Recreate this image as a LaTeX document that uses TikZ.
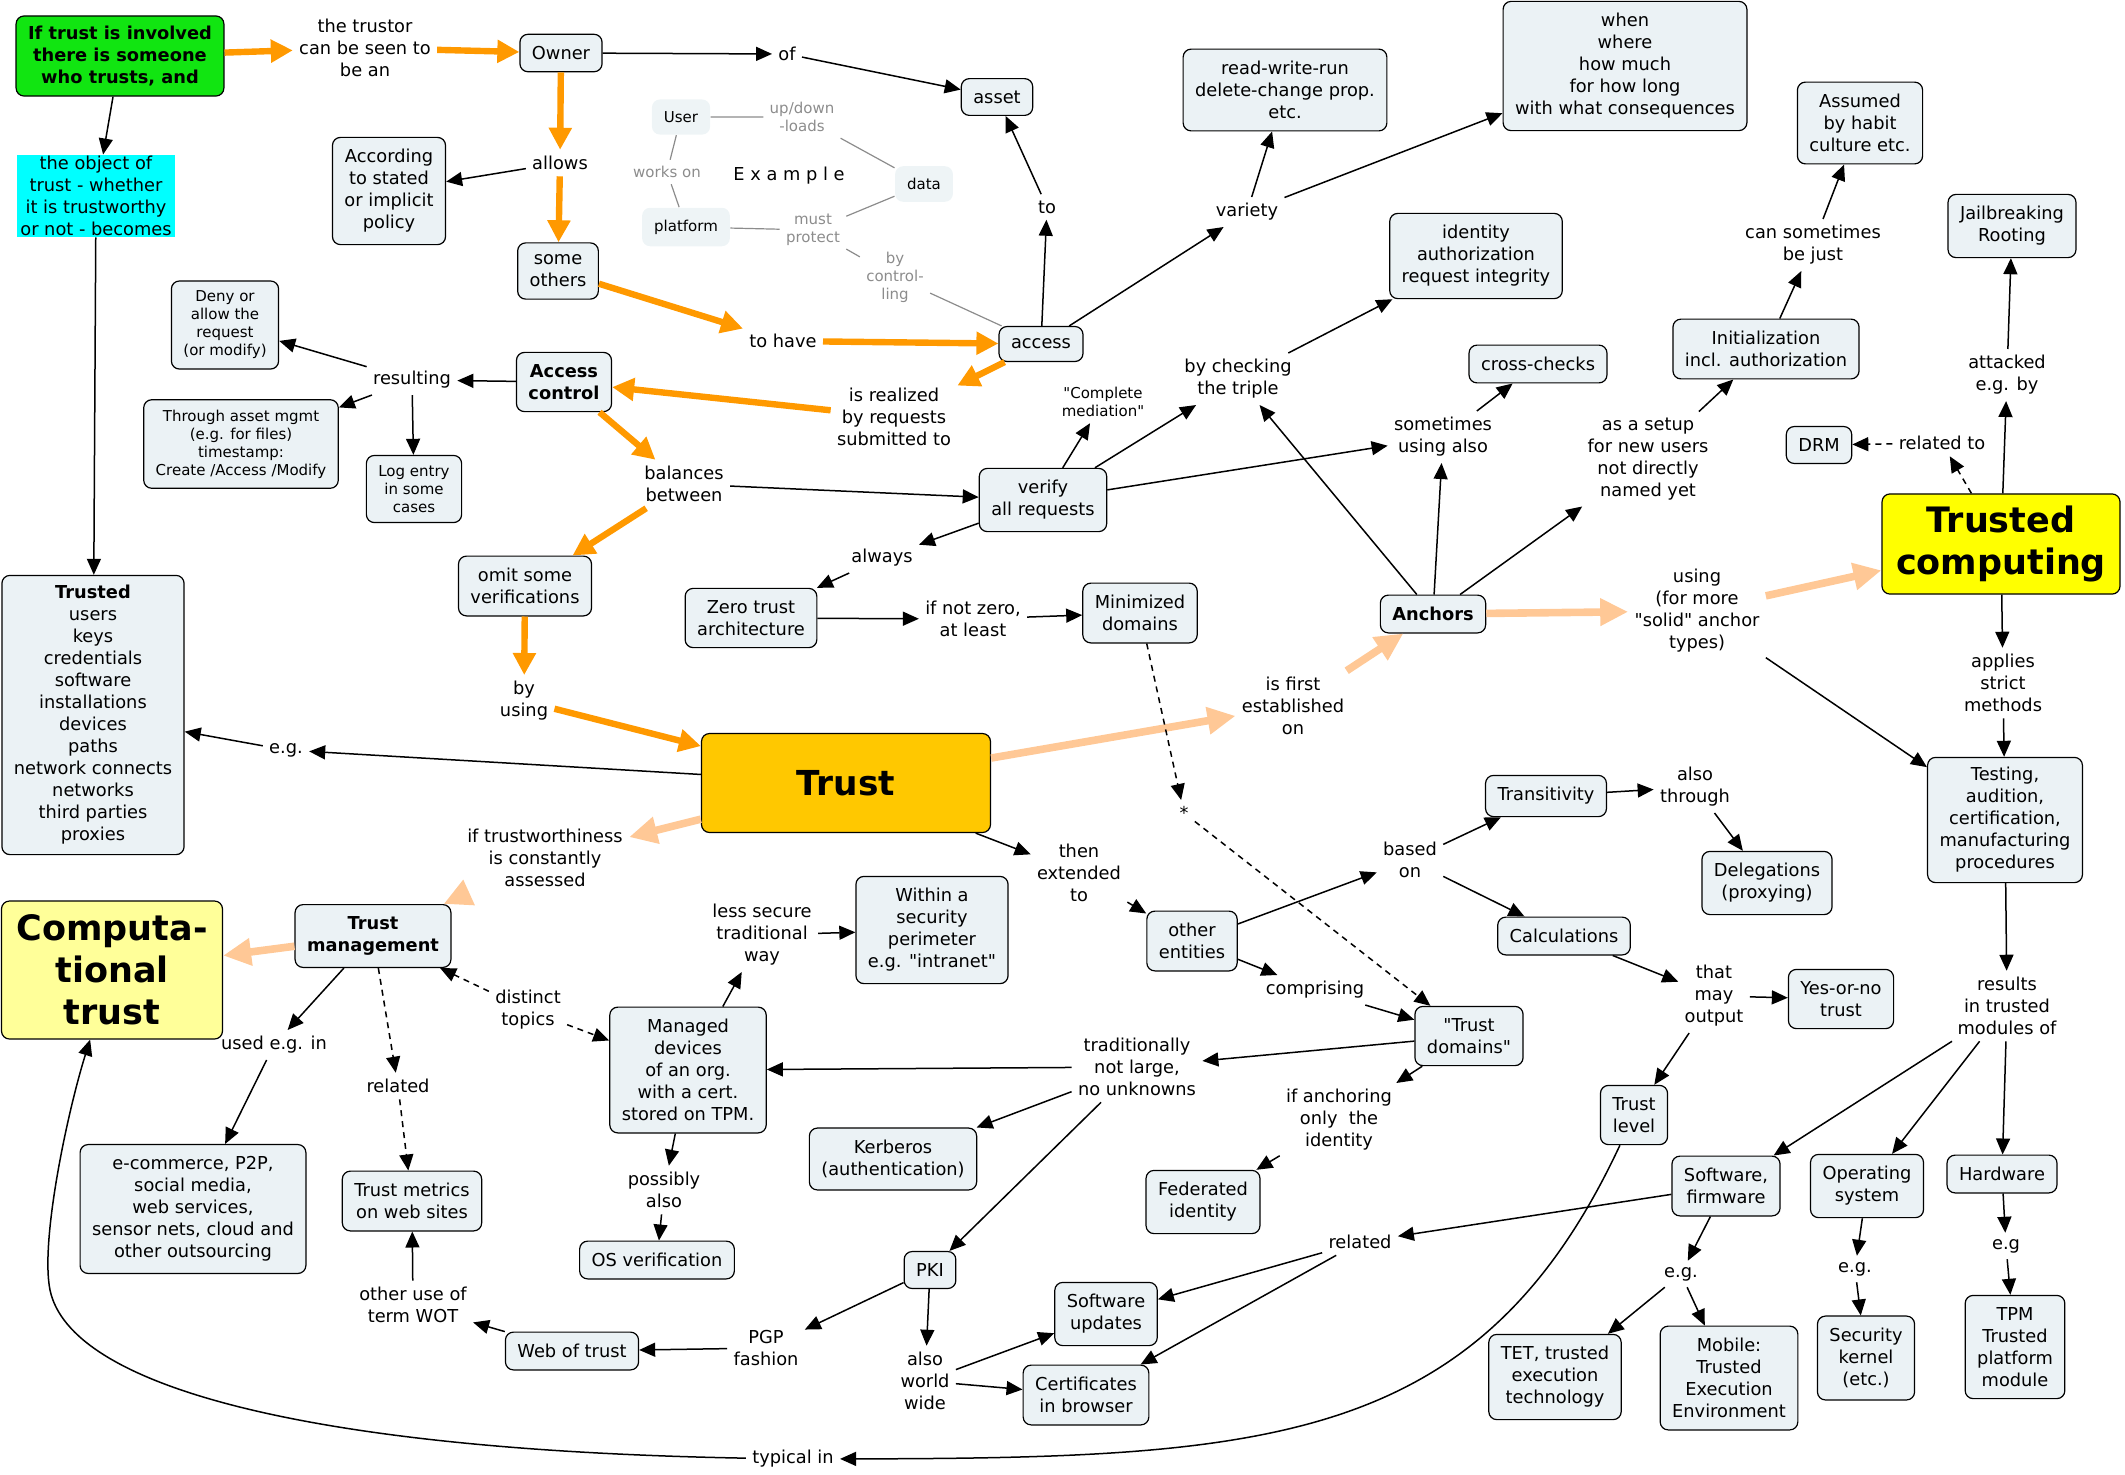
\documentclass[tikz,border=0pt]{standalone}
\usepackage{fontspec}
\setmainfont{DejaVu Sans}
\newfontfamily\mapfam{DejaVu Sans}
\usetikzlibrary{arrows.meta}

\definecolor{boxfill}{HTML}{EBF2F5}
\definecolor{exfill}{HTML}{EEF4F6}
\definecolor{exgray}{HTML}{8C8C8C}
\definecolor{trustgold}{HTML}{FFC800}
\definecolor{tcyellow}{HTML}{FFFF00}
\definecolor{ctyellow}{HTML}{FFFF99}
\definecolor{greenbox}{HTML}{11E511}
\definecolor{cyanbox}{HTML}{00FFFF}
\definecolor{arrorange}{HTML}{FF9900}
\definecolor{arrpeach}{HTML}{FFC896}

\begin{document}
\begin{tikzpicture}[x=0.5pt,y=-0.5pt,
  box/.style={draw,line width=0.6pt,rounded corners=4pt,fill=boxfill,align=center,inner xsep=6pt,inner ysep=6pt,minimum height=17.5pt,font=\mapfam\fontsize{8.9}{11}\selectfont},
  boldbox/.style={box,font=\mapfam\fontsize{8.9}{11}\selectfont\bfseries},
  smallbox/.style={box,inner ysep=5pt,font=\mapfam\fontsize{7.5}{9}\selectfont},
  exbox/.style={box,draw=none,fill=exfill,font=\mapfam\fontsize{7.5}{9}\selectfont},
  phrase/.style={align=center,inner sep=3pt,font=\mapfam\fontsize{8.9}{11}\selectfont},
  exphrase/.style={phrase,text=exgray,font=\mapfam\fontsize{7.5}{9}\selectfont},
  link/.style={line width=0.75pt,-{Triangle[length=8pt,width=7pt]}},
  dlink/.style={link,dash pattern=on 3pt off 2.5pt},
  olink/.style={arrorange,line width=3.2pt,-{Triangle[length=11pt,width=11pt]}},
  plink/.style={arrpeach,line width=3.8pt,-{Triangle[length=14pt,width=13pt]}},
  exlink/.style={exgray,line width=0.6pt}]
\useasboundingbox (0,0) rectangle (2125,1474);

% concepts
\node at (120,56) [boldbox,fill=greenbox,inner ysep=5pt] (green) {If trust is involved\\there is someone\\who trusts, and};
\node at (96,196) [box,draw=none,rounded corners=0pt,fill=cyanbox,inner xsep=1.5pt,inner ysep=0.5pt] (object) {the object of\\trust - whether\\it is trustworthy\\or not - becomes};
\node at (561,53) [box] (owner) {Owner};
\node at (997,97) [box] (asset) {asset};
\node at (1285,90) [box] (rwr) {read-write-run\\delete-change prop.\\etc.};
\node at (1625,66) [box] (when) {when\\where\\how much\\for how long\\with what consequences};
\node at (1860,123) [box] (assumed) {Assumed\\by habit\\culture etc.};
\node at (2012,226) [box] (jail) {Jailbreaking\\Rooting};
\node at (389,191) [box] (according) {According\\to stated\\or implicit\\policy};
\node at (558,271) [box] (others) {some\\others};
\node at (1041,344) [box] (access) {access};
\node at (225,325) [smallbox] (deny) {Deny or\\allow the\\request\\(or modify)};
\node at (564,382) [boldbox] (acctl) {Access\\control};
\node at (241,444) [smallbox] (through) {Through asset mgmt\\(e.g. for files)\\timestamp:\\Create /Access /Modify};
\node at (414,489) [smallbox] (logentry) {Log entry\\in some\\cases};
\node at (1476,256) [box] (identity) {identity\\authorization\\request integrity};
\node at (1538,364) [box] (cross) {cross-checks};
\node at (1766,349) [box] (init) {Initialization\\incl. authorization};
\node at (1819,445) [box] (drm) {DRM};
\node at (2001,544) [box,fill=tcyellow,font=\mapfam\fontsize{17.5}{21}\selectfont\bfseries,minimum width=119pt,minimum height=49.5pt] (tc) {Trusted\\computing};
\node at (525,586) [box] (omit) {omit some\\verifications};
\node at (93,715) [box,inner ysep=5pt] (trusted) {\textbf{Trusted}\\users\\keys\\credentials\\software\\installations\\devices\\paths\\network connects\\networks\\third parties\\proxies};
\node at (1043,500) [box] (verify) {verify\\all requests};
\node at (751,618) [box] (zero) {Zero trust\\architecture};
\node at (1140,613) [box] (minimized) {Minimized\\domains};
\node at (1433,614) [boldbox] (anchors) {Anchors};
\node at (846,783) [box,fill=trustgold,font=\mapfam\fontsize{17.2}{21}\selectfont\bfseries,minimum width=144.5pt,minimum height=49.5pt] (trust) {Trust};
\node at (2005,820) [box,inner ysep=5pt] (testing) {Testing,\\audition,\\certification,\\manufacturing\\procedures};
\node at (1546,796) [box] (transitivity) {Transitivity};
\node at (1767,883) [box] (delegations) {Delegations\\(proxying)};
\node at (1564,936) [box] (calc) {Calculations};
\node at (1192,941) [box] (otherent) {other\\entities};
\node at (932,930) [box] (within) {Within a\\security\\perimeter\\e.g. "intranet"};
\node at (112,970) [box,fill=ctyellow,font=\mapfam\fontsize{17.5}{21}\selectfont\bfseries,minimum width=110.5pt,minimum height=69pt] (comptrust) {Computa-\\tional\\trust};
\node at (373,936) [boldbox] (trustmgmt) {Trust\\management};
\node at (1841,999) [box] (yesno) {Yes-or-no\\trust};
\node at (1469,1036) [box] (tdomains) {"Trust\\domains"};
\node at (688,1070) [box] (managed) {Managed\\devices\\of an org.\\with a cert.\\stored on TPM.};
\node at (1634,1115) [box] (tlevel) {Trust\\level};
\node at (893,1159) [box] (kerberos) {Kerberos\\(authentication)};
\node at (1203,1202) [box] (federated) {Federated\\identity};
\node at (193,1209) [box] (ecommerce) {e-commerce, P2P,\\social media,\\web services,\\sensor nets, cloud and\\other outsourcing};
\node at (412,1201) [box] (metrics) {Trust metrics\\on web sites};
\node at (1726,1186) [box] (swfw) {Software,\\firmware};
\node at (1867,1186) [box] (os) {Operating\\system};
\node at (2002,1174) [box] (hardware) {Hardware};
\node at (657,1260) [box] (osverif) {OS verification};
\node at (930,1270) [box] (pki) {PKI};
\node at (1106,1314) [box] (swupdates) {Software\\updates};
\node at (572,1351) [box] (wot) {Web of trust};
\node at (1086,1395) [box] (certs) {Certificates\\in browser};
\node at (1555,1377) [box] (tet) {TET, trusted\\execution\\technology};
\node at (1729,1378) [box] (mobile) {Mobile:\\Trusted\\Execution\\Environment};
\node at (1866,1358) [box] (seckernel) {Security\\kernel\\(etc.)};
\node at (2015,1347) [box] (tpm) {TPM\\Trusted\\platform\\module};

% example
\node at (681,117) [exbox] (user) {User};
\node at (924,184) [exbox] (data) {data};
\node at (686,227) [exbox] (platform) {platform};
\node at (802,117) [exphrase] (updown) {up/down\\-loads};
\node at (667,172) [exphrase] (workson) {works on};
\node at (789,176) [phrase] (example) {E x a m p l e};
\node at (813,230) [exphrase] (protect) {must\\protect};
\node at (895,277) [exphrase] (controlling) {by\\control-\\ling};

% linking phrases
\node at (365,48) [phrase] (trustor) {the trustor\\can be seen to\\be an};
\node at (787,54) [phrase] (of) {of};
\node at (560,163) [phrase] (allows) {allows};
\node at (1047,207) [phrase] (to) {to};
\node at (1247,212) [phrase] (variety) {variety};
\node at (783,341) [phrase] (tohave) {to have};
\node at (894,417) [phrase] (realized) {is realized\\by requests\\submitted to};
\node at (412,380) [phrase] (resulting) {resulting};
\node at (684,484) [phrase] (balances) {balances\\between};
\node at (1103,402) [phrase,font=\mapfam\fontsize{7.5}{9}\selectfont] (mediation) {"Complete\\mediation"};
\node at (1238,379) [phrase] (checking) {by checking\\the triple};
\node at (1443,437) [phrase] (sometimes) {sometimes\\using also};
\node at (1648,459) [phrase] (setup) {as a setup\\for new users\\not directly\\named yet};
\node at (1813,245) [phrase] (canjust) {can sometimes\\be just};
\node at (1942,443) [phrase] (relto) {related to};
\node at (2007,375) [phrase] (attacked) {attacked\\e.g. by};
\node at (882,558) [phrase] (always) {always};
\node at (973,619) [phrase] (notzero) {if not zero,\\at least};
\node at (524,701) [phrase] (byusing) {by\\using};
\node at (286,750) [phrase] (eg) {e.g.};
\node at (1293,706) [phrase] (first) {is first\\established\\on};
\node at (1697,611) [phrase] (using) {using\\(for more\\"solid" anchor\\types)};
\node at (2003,683) [phrase] (applies) {applies\\strict\\methods};
\node at (1184,813) [phrase] (star) {*};
\node at (545,858) [phrase] (assessed) {if trustworthiness\\is constantly\\assessed};
\node at (1079,873) [phrase] (extended) {then\\extended\\to};
\node at (1410,860) [phrase] (based) {based\\on};
\node at (1695,787) [phrase] (alsothrough) {also\\through};
\node at (762,935) [phrase] (lesssecure) {less secure\\traditional\\way};
\node at (1315,990) [phrase] (comprising) {comprising};
\node at (1714,996) [phrase] (mayoutput) {that\\may\\output};
\node at (2007,1006) [phrase] (results) {results\\in trusted\\modules of};
\node at (528,1010) [phrase] (distinct) {distinct\\topics};
\node at (274,1045) [phrase] (usedin) {used e.g. in};
\node at (1137,1067) [phrase] (traditionally) {traditionally\\not large,\\no unknowns};
\node at (398,1086) [phrase] (relatedl) {related};
\node at (1339,1120) [phrase] (anchoring) {if anchoring\\only\ \ the\\identity};
\node at (664,1190) [phrase] (possibly) {possibly\\also};
\node at (1360,1242) [phrase] (relatedr) {related};
\node at (1681,1274) [phrase] (egsw) {e.g.};
\node at (1855,1269) [phrase] (egos) {e.g.};
\node at (2006,1246) [phrase] (eghw) {e.g};
\node at (413,1305) [phrase] (termwot) {other use of\\term WOT};
\node at (766,1348) [phrase] (pgp) {PGP\\fashion};
\node at (925,1381) [phrase] (worldwide) {also\\world\\wide};
\node at (793,1459) [phrase] (typical) {typical in};

% orange path
\draw[olink] (green) -- (trustor);
\draw[olink] (trustor) -- (owner);
\draw[olink] (owner) -- (allows);
\draw[olink] (allows) -- (others);
\draw[olink] (others) -- (tohave);
\draw[olink] (tohave) -- (access);
\draw[olink] (access) -- (realized);
\draw[olink] (realized) -- (acctl);
\draw[olink] (acctl) -- (balances);
\draw[olink] (balances) -- (omit);
\draw[olink] (omit) -- (byusing);
\draw[olink] (byusing) -- (trust);

% peach paths
\draw[plink] (trust) -- (first);
\draw[plink] (first) -- (anchors);
\draw[plink] (anchors) -- (using);
\draw[plink] (using) -- (tc);
\draw[plink] (trust) -- (assessed);
\draw[plink] (assessed) -- (trustmgmt);
\draw[plink] (trustmgmt) -- (comptrust);

% example lines
\draw[exlink] (user) -- (updown) -- (data);
\draw[exlink] (user) -- (workson) -- (platform);
\draw[exlink] (platform) -- (protect) -- (data);
\draw[exlink] (protect) -- (controlling) -- (access);

% links
\draw[link] (green) -- (object);
\draw[link] (object) -- (trusted);
\draw[link] (owner) -- (of);
\draw[link] (of) -- (asset);
\draw[link] (access) -- (to);
\draw[link] (to) -- (asset);
\draw[link] (access) -- (variety);
\draw[link] (variety) -- (rwr);
\draw[link] (variety) -- (when);
\draw[link] (allows) -- (according);
\draw[link] (acctl) -- (resulting);
\draw[link] (resulting) -- (deny);
\draw[link] (resulting) -- (through);
\draw[link] (resulting) -- (logentry);
\draw[link] (balances) -- (verify);
\draw[link] (verify) -- (mediation);
\draw[link] (verify) -- (checking);
\draw[link] (checking) -- (identity);
\draw[link] (verify) -- (sometimes);
\draw[link] (anchors) -- (checking);
\draw[link] (anchors) -- (sometimes);
\draw[link] (sometimes) -- (cross);
\draw[link] (anchors) -- (setup);
\draw[link] (setup) -- (init);
\draw[link] (init) -- (canjust);
\draw[link] (canjust) -- (assumed);
\draw[link] (tc) -- (attacked);
\draw[link] (attacked) -- (jail);
\draw[dlink] (tc) -- (relto);
\draw[dlink] (relto) -- (drm);
\draw[link] (verify) -- (always);
\draw[link] (always) -- (zero);
\draw[link] (zero) -- (notzero);
\draw[link] (notzero) -- (minimized);
\draw[dlink] (minimized) -- (star);
\draw[dlink] (star) -- (tdomains);
\draw[link] (trust) -- (eg);
\draw[link] (eg) -- (trusted);
\draw[link] (trust) -- (extended);
\draw[link] (extended) -- (otherent);
\draw[link] (otherent) -- (based);
\draw[link] (based) -- (transitivity);
\draw[link] (based) -- (calc);
\draw[link] (transitivity) -- (alsothrough);
\draw[link] (alsothrough) -- (delegations);
\draw[link] (calc) -- (mayoutput);
\draw[link] (mayoutput) -- (yesno);
\draw[link] (mayoutput) -- (tlevel);
\draw[link] (otherent) -- (comprising);
\draw[link] (comprising) -- (tdomains);
\draw[link] (tdomains) -- (traditionally);
\draw[link] (traditionally) -- (managed);
\draw[link] (traditionally) -- (kerberos);
\draw[link] (traditionally) -- (pki);
\draw[link] (tdomains) -- (anchoring);
\draw[link] (anchoring) -- (federated);
\draw[link] (using) -- (testing);
\draw[link] (tc) -- (applies);
\draw[link] (applies) -- (testing);
\draw[link] (testing) -- (results);
\draw[link] (results) -- (swfw);
\draw[link] (results) -- (os);
\draw[link] (results) -- (hardware);
\draw[link] (swfw) -- (relatedr);
\draw[link] (relatedr) -- (swupdates);
\draw[link] (relatedr) -- (certs);
\draw[link] (swfw) -- (egsw);
\draw[link] (egsw) -- (tet);
\draw[link] (egsw) -- (mobile);
\draw[link] (os) -- (egos);
\draw[link] (egos) -- (seckernel);
\draw[link] (hardware) -- (eghw);
\draw[link] (eghw) -- (tpm);
\draw[link] (pki) -- (pgp);
\draw[link] (pgp) -- (wot);
\draw[link] (pki) -- (worldwide);
\draw[link] (worldwide) -- (swupdates);
\draw[link] (worldwide) -- (certs);
\draw[link] (wot) -- (termwot);
\draw[link] (termwot) -- (metrics);
\draw[link] (trustmgmt) -- (usedin);
\draw[link] (usedin) -- (ecommerce);
\draw[dlink] (trustmgmt) -- (relatedl);
\draw[dlink] (relatedl) -- (metrics);
\draw[dlink] (distinct) -- (trustmgmt);
\draw[dlink] (distinct) -- (managed);
\draw[link] (managed) -- (lesssecure);
\draw[link] (lesssecure) -- (within);
\draw[link] (managed) -- (possibly);
\draw[link] (possibly) -- (osverif);
\draw[link] (tlevel) .. controls (1480,1445) and (1270,1458) .. (typical);
\draw[link] (typical) .. controls (300,1450) and (70,1385) .. (50,1290) .. controls (40,1240) and (68,1110) .. (comptrust);
\end{tikzpicture}
\end{document}
